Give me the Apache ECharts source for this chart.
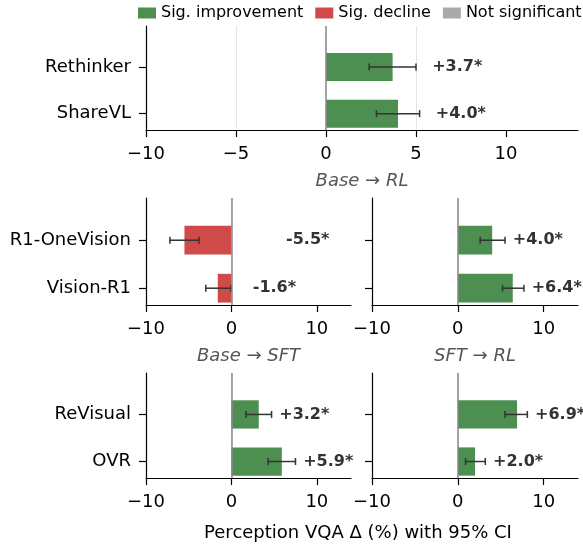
<!DOCTYPE html>
<html>
<head>
<meta charset="utf-8">
<script src="https://cdn.jsdelivr.net/npm/echarts@6/dist/echarts.min.js"></script>
<style>
  html, body { margin: 0; padding: 0; background: #fff; }
  #chart { width: 583px; height: 548px; }
</style>
</head>
<body>
<div id="chart"></div>
<script>
// perception VQA deltas (%), with 95% CI bounds; every value marked significant
const topModels = ['Rethinker', 'ShareVL'];
const topDelta = [3.7, 4.0];
const topLow = [2.4, 2.8];
const topHigh = [5.0, 5.2];
const topSig = [true, true];

const midModels = ['R1-OneVision', 'Vision-R1'];
const midSftDelta = [-5.5, -1.6];
const midSftLow = [-7.2, -3.0];
const midSftHigh = [-3.8, -0.05];
const midRlDelta = [4.0, 6.4];
const midRlLow = [2.6, 5.2];
const midRlHigh = [5.5, 7.7];
const midSig = [true, true];

const botModels = ['ReVisual', 'OVR'];
const botSftDelta = [3.2, 5.9];
const botSftLow = [1.7, 4.3];
const botSftHigh = [4.7, 7.5];
const botRlDelta = [6.9, 2.0];
const botRlLow = [5.5, 0.9];
const botRlHigh = [8.1, 3.2];
const botSig = [true, true];

const topTicks = [-10, -5, 0, 5, 10];
const subTicks = [-10, 0, 10];
const legendNames = ['Sig. improvement', 'Sig. decline', 'Not significant'];

const GREEN = '#4c8f50';
const RED = '#d04a4a';
const GREY = '#aaaaaa';
const FONT = '"DejaVu Sans", sans-serif';
const BAR_H = 0.6;

const panels = [
  { grid: { left: 146, top: 26, width: 432, height: 104 }, models: topModels, delta: topDelta, low: topLow, high: topHigh, sig: topSig, ticks: topTicks, interval: 5, title: 'Base → RL', yLabels: true },
  { grid: { left: 146, top: 198, width: 205, height: 107 }, models: midModels, delta: midSftDelta, low: midSftLow, high: midSftHigh, sig: midSig, ticks: subTicks, interval: 10, title: 'Base → SFT', yLabels: true },
  { grid: { left: 372, top: 198, width: 206, height: 107 }, models: midModels, delta: midRlDelta, low: midRlLow, high: midRlHigh, sig: midSig, ticks: subTicks, interval: 10, title: 'SFT → RL', yLabels: false },
  { grid: { left: 146, top: 373, width: 205, height: 105 }, models: botModels, delta: botSftDelta, low: botSftLow, high: botSftHigh, sig: botSig, ticks: subTicks, interval: 10, title: '', yLabels: true },
  { grid: { left: 372, top: 373, width: 206, height: 105 }, models: botModels, delta: botRlDelta, low: botRlLow, high: botRlHigh, sig: botSig, ticks: subTicks, interval: 10, title: '', yLabels: false }
];

const fmtTick = v => (v < 0 ? '\u2212' + Math.abs(v) : String(v));

// bar + CI whisker + value label, all placed through the axis scales
function renderItem(params, api) {
  const idx = api.value(0);
  const d = api.value(1);
  const lo = api.value(2);
  const hi = api.value(3);
  const sig = api.value(4) === 1;
  const color = !sig ? GREY : d > 0 ? GREEN : RED;
  const p0 = api.coord([0, idx]);
  const p1 = api.coord([d, idx]);
  const pl = api.coord([lo, idx]);
  const ph = api.coord([hi, idx]);
  const bh = Math.abs(api.size([0, BAR_H])[1]);
  const pt = api.coord([Math.max(hi, Math.abs(d)) + 0.9, idx]);
  const cap = 3.5;
  const line = { stroke: '#333', lineWidth: 1.5 };
  const text = (d > 0 ? '+' : '') + d.toFixed(1) + (sig ? '*' : '');
  return {
    type: 'group',
    children: [
      { type: 'rect', shape: { x: Math.min(p0[0], p1[0]), y: p0[1] - bh / 2, width: Math.abs(p1[0] - p0[0]), height: bh }, style: { fill: color } },
      { type: 'line', shape: { x1: pl[0], y1: pl[1], x2: ph[0], y2: ph[1] }, style: line },
      { type: 'line', shape: { x1: pl[0], y1: pl[1] - cap, x2: pl[0], y2: pl[1] + cap }, style: line },
      { type: 'line', shape: { x1: ph[0], y1: ph[1] - cap, x2: ph[0], y2: ph[1] + cap }, style: line },
      { type: 'text', x: pt[0], y: pt[1], style: { text: text, font: 'bold 16px ' + FONT, fill: '#333', textAlign: 'left', textVerticalAlign: 'middle' } }
    ]
  };
}

const chart = echarts.init(document.getElementById('chart'));

const option = {
  animation: false,
  textStyle: { fontFamily: FONT },
  legend: {
    data: legendNames.map(n => ({ name: n, icon: 'rect' })),
    left: 138,
    top: 5,
    width: 450,
    padding: 0,
    itemWidth: 18,
    itemHeight: 11,
    itemGap: 12,
    selectedMode: false,
    textStyle: { fontSize: 16, color: '#000', fontFamily: FONT }
  },
  grid: panels.map(p => p.grid),
  xAxis: panels.map((p, i) => ({
    gridIndex: i,
    type: 'value',
    min: -10,
    max: 14,
    interval: p.interval,
    name: p.title,
    nameLocation: 'middle',
    nameGap: 42,
    nameTextStyle: { fontSize: 18, fontStyle: 'italic', color: '#555', fontFamily: FONT },
    axisLine: { show: true, onZero: false, lineStyle: { color: '#000', width: 1.2 } },
    axisTick: { show: true, length: 7, customValues: p.ticks, lineStyle: { color: '#000', width: 1.2 } },
    axisLabel: { customValues: p.ticks, formatter: fmtTick, fontSize: 18, color: '#000', margin: 15 },
    splitLine: { show: true, showMaxLine: false, lineStyle: { color: '#e6e6e6', width: 1 } }
  })),
  yAxis: panels.map((p, i) => ({
    gridIndex: i,
    type: 'value',
    inverse: true,
    min: -0.88,
    max: 1.35,
    axisLine: { show: true, onZero: false, lineStyle: { color: '#000', width: 1.2 } },
    axisTick: { show: true, length: 7, customValues: [0, 1], lineStyle: { color: '#000', width: 1.2 } },
    axisLabel: {
      show: p.yLabels,
      customValues: [0, 1],
      formatter: v => p.models[Math.round(v)] || '',
      fontSize: 18,
      color: '#000',
      margin: 15
    },
    splitLine: { show: false }
  })),
  graphic: [
    {
      type: 'text',
      x: 358,
      y: 533,
      style: { text: 'Perception VQA Δ (%) with 95% CI', font: '18px ' + FONT, fill: '#000', textAlign: 'center', textVerticalAlign: 'middle' }
    }
  ],
  series: [
    ...panels.map((p, i) => ({
      type: 'custom',
      name: p.title || 'panel' + i,
      xAxisIndex: i,
      yAxisIndex: i,
      renderItem: renderItem,
      encode: { x: [1, 2, 3], y: 0 },
      data: p.models.map((m, k) => [k, p.delta[k], p.low[k], p.high[k], p.sig[k] ? 1 : 0]),
      markLine: {
        silent: true,
        symbol: ['none', 'none'],
        label: { show: false },
        lineStyle: { color: '#888', width: 1.5, type: 'solid' },
        data: [{ xAxis: 0 }]
      },
      z: 3
    })),
    // legend-only entries
    ...legendNames.map((n, i) => ({
      type: 'custom',
      name: n,
      xAxisIndex: 0,
      yAxisIndex: 0,
      data: [],
      renderItem: () => null,
      itemStyle: { color: [GREEN, RED, GREY][i] }
    }))
  ]
};

chart.setOption(option);
</script>
</body>
</html>
